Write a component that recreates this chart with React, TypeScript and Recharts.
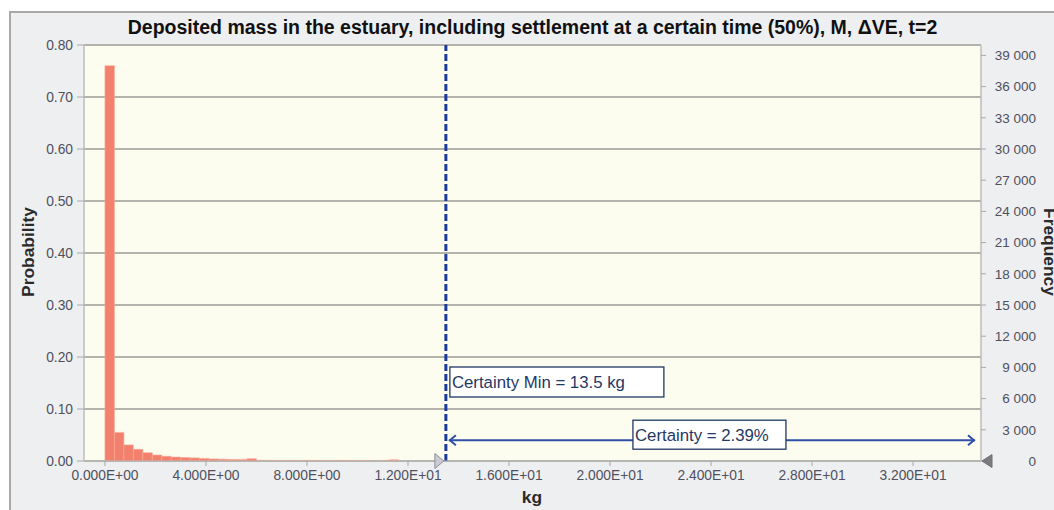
import React from 'react';
import {
  ComposedChart,
  Bar,
  XAxis,
  YAxis,
  CartesianGrid,
  ReferenceLine,
  ReferenceDot,
} from 'recharts';

// ---- data ----
const chartTitle = 'Deposited mass in the estuary, including settlement at a certain time (50%), M, \u0394VE, t=2';
const xLabel = 'kg';
const leftLabel = 'Probability';
const rightLabel = 'Frequency';

const binWidth = 0.375; // kg per histogram bin
const binCenters = [
  0.1875, 0.5625, 0.9375, 1.3125, 1.6875, 2.0625, 2.4375, 2.8125, 3.1875, 3.5625,
  3.9375, 4.3125, 4.6875, 5.0625, 5.4375, 5.8125, 6.1875, 6.5625, 6.9375, 7.3125,
  7.6875, 8.0625, 8.4375, 8.8125, 9.1875, 9.5625, 9.9375, 10.3125, 10.6875, 11.0625,
  11.4375,
];
const probabilities = [
  0.76, 0.055, 0.031, 0.0225, 0.016, 0.0115, 0.009, 0.0075, 0.0065, 0.006,
  0.005, 0.004, 0.0035, 0.003, 0.003, 0.0045, 0.0012, 0.0012, 0.0011, 0.0012,
  0.0011, 0.0012, 0.0011, 0.0011, 0.0012, 0.0011, 0.0011, 0.0011, 0, 0.0012,
  0.0022,
];

const xDomain = [-0.83, 34.69];
const xTicks = [0, 4, 8, 12, 16, 20, 24, 28, 32];
const probTicks = [0, 0.1, 0.2, 0.3, 0.4, 0.5, 0.6, 0.7, 0.8];
const freqDomain = [0, 40000];
const freqTicks = [0, 3000, 6000, 9000, 12000, 15000, 18000, 21000, 24000, 27000, 30000, 33000, 36000, 39000];

const certaintyMin = 13.5;
const certaintyPct = 2.39;
const arrowProb = 0.04;

const data = binCenters.map((x, i) => ({ x, p: probabilities[i] }));

// ---- styling ----
const FONT = '"Liberation Sans", Arial, Helvetica, sans-serif';
const TICK_COLOR = '#4f4f5e';
const NAVY = '#1f3864';
const DASH_BLUE = '#1b3a9c';
const ARROW_BLUE = '#3050a8';
const BAR_PX = binWidth * 25.25;

const sci = (v: number) => {
  const [m, e] = v.toExponential(3).split('e');
  const n = parseInt(e, 10);
  return `${m.toUpperCase()}E${n < 0 ? '-' : '+'}${String(Math.abs(n)).padStart(2, '0')}`;
};
const spaced = (v: number) => String(v).replace(/\B(?=(\d{3})+(?!\d))/g, ' ');

const RightTick = (props: any) => {
  const { x, y, payload } = props;
  return (
    <text
      x={x + 48}
      y={y}
      dy="0.355em"
      textAnchor="end"
      fontSize={13.5}
      fill={TICK_COLOR}
      fontFamily={FONT}
    >
      {spaced(payload.value)}
    </text>
  );
};

const MinLabel = (props: any) => {
  const vb = props.viewBox || {};
  const x = vb.x + 4;
  const y = vb.y + 322;
  return (
    <g>
      <rect x={x} y={y} width={214} height={30} fill="#ffffff" stroke={NAVY} strokeWidth={1.3} />
      <text x={x + 2} y={y + 21} fontSize={16.8} fill={NAVY} fontFamily={FONT}>
        {`Certainty Min = ${certaintyMin} kg`}
      </text>
    </g>
  );
};

const ArrowShape = (props: any) => {
  const { x1, y1, x2 } = props;
  const ax1 = x1 + 3;
  const ax2 = x2 - 6;
  const y = y1;
  const mid = (x1 + x2) / 2 - 4;
  const bw = 153;
  return (
    <g>
      <line x1={ax1} y1={y} x2={ax2} y2={y} stroke={ARROW_BLUE} strokeWidth={2} />
      <polyline
        points={`${ax1 + 7},${y - 5} ${ax1 + 1},${y} ${ax1 + 7},${y + 5}`}
        fill="none"
        stroke={ARROW_BLUE}
        strokeWidth={2}
      />
      <polyline
        points={`${ax2 - 7},${y - 5} ${ax2 - 1},${y} ${ax2 - 7},${y + 5}`}
        fill="none"
        stroke={ARROW_BLUE}
        strokeWidth={2}
      />
      <rect x={mid - bw / 2} y={y - 20} width={bw} height={29} fill="#ffffff" stroke={NAVY} strokeWidth={1.3} />
      <text x={mid - bw / 2 + 2} y={y + 1} fontSize={16.8} fill={NAVY} fontFamily={FONT}>
        {`Certainty = ${certaintyPct}%`}
      </text>
    </g>
  );
};

const LeftGrip = (props: any) => {
  const { cx, cy } = props;
  return (
    <polygon
      points={`${cx - 2},${cy} ${cx - 11},${cy - 7.5} ${cx - 11},${cy + 7.5}`}
      fill="#c9cad3"
      stroke="#8e8e96"
      strokeWidth={1}
    />
  );
};

const RightGrip = (props: any) => {
  const { cx, cy } = props;
  return (
    <polygon
      points={`${cx + 1},${cy} ${cx + 11},${cy - 6.5} ${cx + 11},${cy + 6.5}`}
      fill="#7c7c80"
      stroke="#707074"
      strokeWidth={1}
    />
  );
};

export default function App() {
  return (
    <div
      style={{
        position: 'absolute',
        left: 0,
        top: 0,
        width: 1054,
        height: 510,
        overflow: 'hidden',
        background: '#ffffff',
        fontFamily: FONT,
      }}
    >
      <div
        style={{
          position: 'absolute',
          left: 9,
          top: 11,
          width: 1045,
          height: 499,
          background: '#eeeff1',
          borderTop: '2px solid #a8a8a8',
          borderLeft: '2px solid #a8a8a8',
        }}
      />
      <div style={{ position: 'absolute', left: 0, top: 0 }}>
        <ComposedChart
          width={1054}
          height={510}
          data={data}
          margin={{ top: 45, right: 0, bottom: 0, left: 0 }}
          barGap={0}
          barCategoryGap={0}
        >
          <CartesianGrid
            yAxisId="left"
            vertical={false}
            horizontal
            stroke="#b3b3ab"
            strokeWidth={2}
            fill="#fcfcef"
            fillOpacity={1}
          />
          <XAxis
            dataKey="x"
            type="number"
            domain={xDomain}
            allowDataOverflow
            ticks={xTicks}
            interval={0}
            height={49}
            tickSize={5}
            tickMargin={4}
            tickFormatter={sci}
            tick={{ fontSize: 13.8, fill: TICK_COLOR, fontFamily: FONT }}
            axisLine={{ stroke: '#b8b8b8', strokeWidth: 1 }}
            tickLine={{ stroke: '#a8a8a8' }}
          />
          <YAxis
            yAxisId="left"
            width={84}
            domain={[0, 0.8]}
            allowDataOverflow
            ticks={probTicks}
            interval={0}
            tickSize={7}
            tickMargin={4}
            tickFormatter={(v: number) => v.toFixed(2)}
            tick={{ fontSize: 13.8, fill: TICK_COLOR, fontFamily: FONT }}
            axisLine={{ stroke: '#bdbdbd', strokeWidth: 1.5 }}
            tickLine={{ stroke: '#a8a8a8' }}
          />
          <YAxis
            yAxisId="right"
            orientation="right"
            width={73}
            domain={freqDomain}
            allowDataOverflow
            ticks={freqTicks}
            interval={0}
            tickSize={5}
            tickMargin={2}
            tick={<RightTick />}
            axisLine={{ stroke: '#bdbdbd', strokeWidth: 1.5 }}
            tickLine={{ stroke: '#a8a8a8' }}
          />
          <Bar
            yAxisId="left"
            dataKey="p"
            fill="#f3806d"
            stroke="#f7a896"
            strokeWidth={0.6}
            barSize={BAR_PX}
            isAnimationActive={false}
          />
          <ReferenceLine
            yAxisId="left"
            x={certaintyMin}
            stroke={DASH_BLUE}
            strokeWidth={3}
            strokeDasharray="7 3"
            ifOverflow="visible"
            label={<MinLabel />}
          />
          <ReferenceLine
            yAxisId="left"
            segment={[
              { x: certaintyMin, y: arrowProb },
              { x: xDomain[1], y: arrowProb },
            ]}
            ifOverflow="visible"
            shape={<ArrowShape />}
          />
          <ReferenceDot yAxisId="left" x={certaintyMin} y={0} ifOverflow="visible" shape={<LeftGrip />} />
          <ReferenceDot yAxisId="left" x={xDomain[1]} y={0} ifOverflow="visible" shape={<RightGrip />} />
        </ComposedChart>
      </div>
      <div
        style={{
          position: 'absolute',
          left: 84,
          width: 897,
          top: 16,
          lineHeight: '22px',
          textAlign: 'center',
          fontSize: 19.5,
          fontWeight: 'bold',
          color: '#111111',
          whiteSpace: 'nowrap',
        }}
      >
        {chartTitle}
      </div>
      <div
        style={{
          position: 'absolute',
          left: 28 - 100,
          top: 252 - 10,
          width: 200,
          lineHeight: '20px',
          textAlign: 'center',
          fontSize: 17.4,
          fontWeight: 'bold',
          color: '#2a2a2a',
          transform: 'rotate(-90deg)',
        }}
      >
        {leftLabel}
      </div>
      <div
        style={{
          position: 'absolute',
          left: 1050 - 100,
          top: 252 - 10,
          width: 200,
          lineHeight: '20px',
          textAlign: 'center',
          fontSize: 17.4,
          fontWeight: 'bold',
          color: '#2a2a2a',
          transform: 'rotate(90deg)',
        }}
      >
        {rightLabel}
      </div>
      <div
        style={{
          position: 'absolute',
          left: 532 - 50,
          top: 497 - 10,
          width: 100,
          lineHeight: '20px',
          textAlign: 'center',
          fontSize: 17.4,
          fontWeight: 'bold',
          color: '#2a2a2a',
        }}
      >
        {xLabel}
      </div>
    </div>
  );
}
